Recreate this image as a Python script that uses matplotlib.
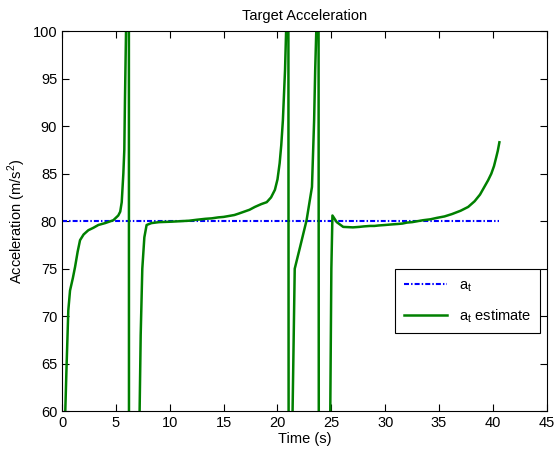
import numpy as np
from matplotlib import pyplot as plt

plt.rcParams['font.family'] = ['Liberation Sans', 'DejaVu Sans']
plt.rcParams['mathtext.fontset'] = 'custom'
plt.rcParams['mathtext.rm'] = 'Liberation Sans'

# true target acceleration
t_true = [0.0, 40.6]
a_true = [80.0, 80.0]

# filter estimate of the target acceleration (values past the limits are clipped)
t_est = [0.1, 0.3, 0.4, 0.58, 0.74, 1.0, 1.21, 1.45, 1.67, 2.0, 2.44, 2.9,
         3.37, 4.0, 4.76, 5.22, 5.4, 5.54, 5.69, 5.78, 5.84, 5.94, 6.05,
         6.2, 6.22, 7.1, 7.2, 7.3, 7.45, 7.64, 7.85, 8.3, 9.0, 10.2, 11.0,
         11.8, 12.5, 13.3, 13.9, 14.5, 15.0, 15.5, 16.0, 16.4, 17.4, 17.9,
         18.5, 19.0, 19.4, 19.76, 20.0, 20.2, 20.35, 20.5, 20.7, 20.8, 20.9,
         21.0, 21.05, 21.2, 21.25, 21.4, 21.6, 22.1, 22.7, 23.2, 23.4, 23.5,
         23.6, 23.7, 23.8, 23.85, 24.8, 24.9, 25.0, 25.1, 25.5, 26.1, 27.0,
         27.6, 28.0, 28.6, 29.0, 29.4, 30.0, 30.5, 31.1, 31.6, 32.0, 32.5,
         33.0, 33.5, 34.2, 34.8, 35.5, 36.2, 37.0, 37.7, 38.3, 38.8, 39.2,
         39.55, 39.85, 40.1, 40.3, 40.45, 40.6]
a_est = [50.0, 60.0, 64.0, 70.6, 72.7, 74.0, 75.2, 76.8, 78.0, 78.6, 79.05,
         79.3, 79.6, 79.8, 80.1, 80.6, 81.0, 82.0, 85.0, 87.5, 92.7, 100.0,
         120.0, 130.0, 20.0, 20.0, 60.0, 68.0, 75.0, 78.3, 79.6, 79.8, 79.9,
         79.95, 80.0, 80.05, 80.15, 80.25, 80.3, 80.4, 80.45, 80.55, 80.65,
         80.8, 81.2, 81.5, 81.8, 82.0, 82.5, 83.3, 84.4, 86.1, 88.0, 90.6,
         95.9, 100.0, 130.0, 130.0, 20.0, 20.0, 20.0, 60.0, 75.0, 77.3, 80.1,
         83.6, 90.6, 95.9, 100.0, 130.0, 130.0, 20.0, 20.0, 60.0, 75.0, 80.6,
         79.9, 79.4, 79.35, 79.4, 79.45, 79.5, 79.5, 79.55, 79.6, 79.65, 79.7,
         79.75, 79.85, 79.9, 80.0, 80.1, 80.2, 80.35, 80.5, 80.75, 81.1,
         81.5, 82.1, 82.8, 83.6, 84.3, 85.0, 85.8, 86.7, 87.4, 88.3]

fig = plt.figure(figsize=(5.54, 4.57), dpi=100)
ax = fig.add_axes([0.112, 0.1, 0.875, 0.832])

ax.plot(t_true, a_true, color='blue', linestyle=(0, (2.4, 1.0, 0.7, 1.0)),
        linewidth=1.5, label=r'a$_\mathregular{t}$')
ax.plot(t_est, a_est, color='#008000', linewidth=1.8,
        label=r'a$_\mathregular{t}$ estimate')

ax.set_xlim(0, 45)
ax.set_ylim(60, 100)
ax.set_xticks(np.arange(0, 46, 5))
ax.set_yticks(np.arange(60, 101, 5))
ax.tick_params(direction='in', top=True, right=True, length=5,
               labelsize=10.5, width=0.8)
for s in ax.spines.values():
    s.set_linewidth(0.8)

ax.set_title('Target Acceleration', fontsize=10.5, pad=8)
ax.set_xlabel('Time (s)', fontsize=10.5, labelpad=1)
ax.set_ylabel(r'Acceleration (m/s$^\mathregular{2}$)', fontsize=10.5,
              labelpad=3)

leg = ax.legend(loc='lower right', bbox_to_anchor=(0.986, 0.205),
                borderaxespad=0, fontsize=10.5, handlelength=3.0,
                frameon=True, fancybox=False, edgecolor='black', framealpha=1,
                borderpad=0.6, labelspacing=0.9)
leg.get_frame().set_linewidth(0.8)

fig.savefig('out.png', dpi=100)
